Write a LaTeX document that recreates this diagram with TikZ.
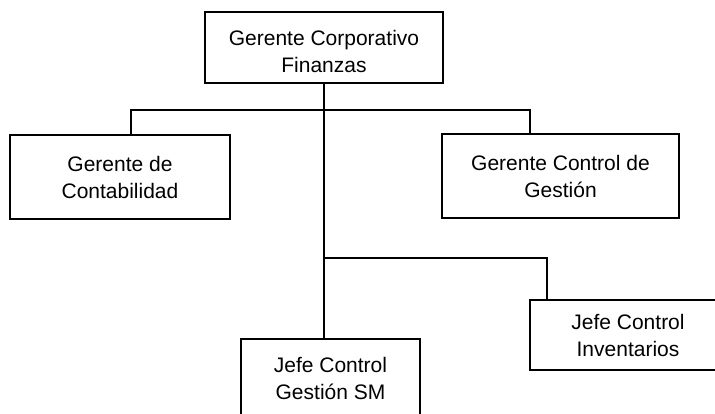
\documentclass[tikz,border=0pt]{standalone}
\usepackage{fontspec}
\setmainfont{Liberation Sans}
\tikzset{
  orgbox/.style={draw=black, line width=1.7pt, fill=white, rectangle, align=center,
    inner sep=0pt, font=\fontsize{21}{27}\selectfont},
  link/.style={draw=black, line width=1.3pt}
}
\begin{document}
\begin{tikzpicture}[x=1pt,y=-1pt]
\useasboundingbox (0,0) rectangle (715,414);
\clip (0,0) rectangle (715,414);
\coordinate (bl) at (131,110);
\coordinate (br) at (530,110);
\coordinate (b2) at (324,258);
\coordinate (b3) at (547,258);
\node[orgbox, minimum width=238pt, minimum height=71pt] (top) at (324,47.5) {\rule{0pt}{23pt}Gerente Corporativo\\Finanzas};
\node[orgbox, minimum width=220pt, minimum height=84pt] (left) at (120,177) {Gerente de\\Contabilidad};
\node[orgbox, minimum width=237pt, minimum height=84pt] (right) at (560.5,176) {Gerente Control de\\Gestión};
\node[orgbox, minimum width=196pt, minimum height=70pt] (inv) at (628,335) {Jefe Control\\Inventarios};
\node[orgbox, minimum width=179pt, minimum height=78pt] (sm) at (330.5,378) {Jefe Control\\Gestión SM};
\draw[link] (top.south) -- (top.south |- sm.north);
\draw[link] (bl |- left.north) -- (bl) -- (br) -- (br |- right.north);
\draw[link] (b2) -- (b3) -- (b3 |- inv.north);
\end{tikzpicture}
\end{document}
